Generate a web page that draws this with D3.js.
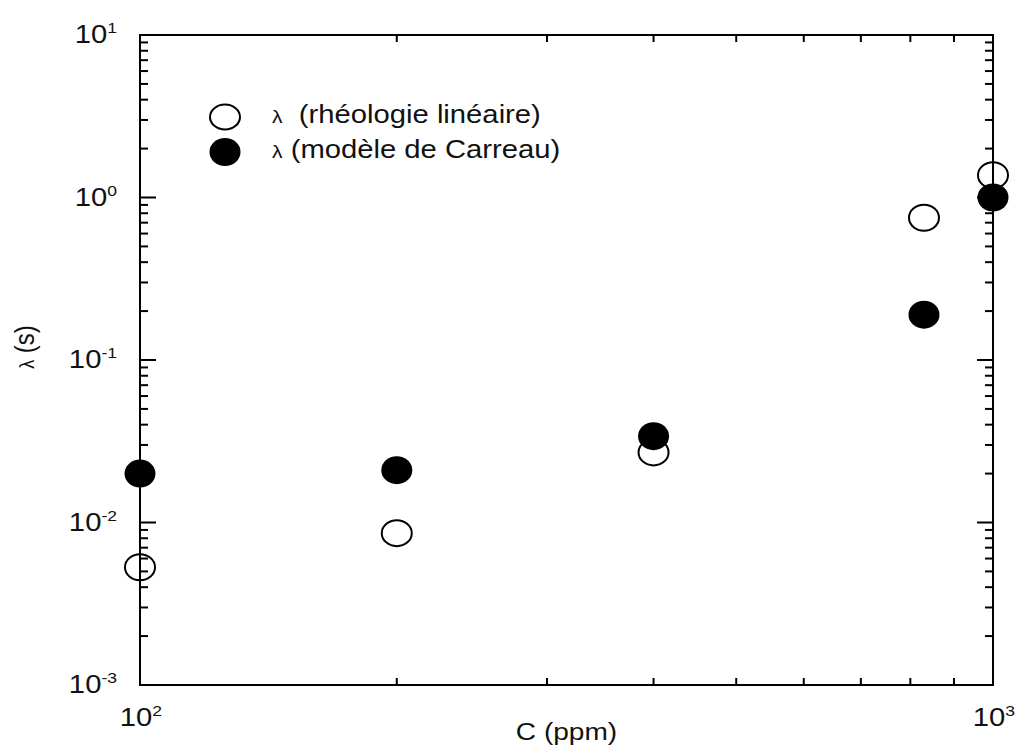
<!DOCTYPE html>
<html>
<head>
<meta charset="utf-8">
<script src="https://cdn.jsdelivr.net/npm/d3@7"></script>
<style>
  body { margin: 0; background: #fff; }
  text { font-family: "Liberation Sans", Arial, sans-serif; fill: #111; }
</style>
</head>
<body>
<div id="chart"></div>
<script>
const width = 1015;
const height = 747;
const margins = { top: 35, left: 140, bottom: 62, right: 22 };

// data
const concentrations = [100, 200, 400, 830, 1000];
const lambdaLinear = [0.0053, 0.0086, 0.027, 0.75, 1.37];
const lambdaCarreau = [0.020, 0.021, 0.034, 0.19, 1.0];
const seriesNames = ['(rhéologie linéaire)', '(modèle de Carreau)'];
const xTickLabels = ['2', '3'];
const yTickLabels = ['-3', '-2', '-1', '0', '1'];

// the picture is a bit wider than tall, text gets stretched the same way
const sx = 1.17;

const svg = d3.select('#chart')
    .append('svg')
    .attr('width', width)
    .attr('height', height);

const x = d3.scaleLog()
    .domain([100, 1000])
    .range([margins.left, width - margins.right]);

const y = d3.scaleLog()
    .domain([1e-3, 10])
    .range([height - margins.bottom, margins.top]);

const x0 = x.range()[0], x1 = x.range()[1];
const y0 = y.range()[0], y1 = y.range()[1];

// frame
svg.append('rect')
    .attr('x', x0)
    .attr('y', y1)
    .attr('width', x1 - x0)
    .attr('height', y0 - y1)
    .attr('fill', 'none')
    .attr('stroke', '#000')
    .attr('stroke-width', 2);

const isMajor = (v) => Math.abs(Math.log10(v) - Math.round(Math.log10(v))) < 1e-9;

// y ticks, inward on both sides
const yTicks = y.ticks();
const ticks = svg.append('g').attr('stroke', '#000').attr('stroke-width', 2);

ticks.selectAll('.yl').data(yTicks).enter()
    .append('line')
    .attr('x1', x0)
    .attr('x2', d => x0 + (isMajor(d) ? 16 : 8))
    .attr('y1', d => y(d))
    .attr('y2', d => y(d));

ticks.selectAll('.yr').data(yTicks).enter()
    .append('line')
    .attr('x1', x1)
    .attr('x2', d => x1 - (isMajor(d) ? 16 : 8))
    .attr('y1', d => y(d))
    .attr('y2', d => y(d));

// x ticks, inward on bottom and top
const xTicks = x.ticks();
ticks.selectAll('.xb').data(xTicks).enter()
    .append('line')
    .attr('x1', d => x(d))
    .attr('x2', d => x(d))
    .attr('y1', y0)
    .attr('y2', d => y0 - (isMajor(d) ? 14 : 7));

ticks.selectAll('.xt').data(xTicks).enter()
    .append('line')
    .attr('x1', d => x(d))
    .attr('x2', d => x(d))
    .attr('y1', y1)
    .attr('y2', d => y1 + (isMajor(d) ? 14 : 7));

// tick labels: 10 with superscript exponent
function powerLabel(g, px, py, exp, anchor) {
    const t = g.append('text')
        .attr('transform', `translate(${px},${py}) scale(${sx},1)`)
        .attr('text-anchor', anchor)
        .style('font-size', '25px');
    t.append('tspan').text('10');
    t.append('tspan')
        .attr('dy', -10)
        .style('font-size', '15px')
        .text(exp);
}

const labels = svg.append('g');
const yMajors = yTicks.filter(isMajor);
yMajors.forEach((v, i) => powerLabel(labels, 117, y(v) + 8, yTickLabels[i], 'end'));

const xMajors = xTicks.filter(isMajor);
xMajors.forEach((v, i) => powerLabel(labels, x(v) + 1, 726, xTickLabels[i], 'middle'));

// axis titles
svg.append('text')
    .attr('transform', `translate(${(x0 + x1) / 2},740) scale(${sx},1)`)
    .attr('text-anchor', 'middle')
    .style('font-size', '24px')
    .text('C (ppm)');

const yTitle = svg.append('text')
    .attr('transform', `translate(34,347) scale(${sx},1) rotate(-90)`)
    .attr('text-anchor', 'middle')
    .style('font-size', '24px');
yTitle.append('tspan').style('font-size', '18px').text('λ');
yTitle.append('tspan').text(' (s)');

// points
const linData = concentrations.map((c, i) => ({ c: c, v: lambdaLinear[i] }));
const carData = concentrations.map((c, i) => ({ c: c, v: lambdaCarreau[i] }));

svg.append('g').selectAll('ellipse').data(linData).enter()
    .append('ellipse')
    .attr('cx', d => x(d.c))
    .attr('cy', d => y(d.v))
    .attr('rx', 15)
    .attr('ry', 13)
    .attr('fill', 'none')
    .attr('stroke', '#000')
    .attr('stroke-width', 2);

svg.append('g').selectAll('ellipse').data(carData).enter()
    .append('ellipse')
    .attr('cx', d => x(d.c))
    .attr('cy', d => y(d.v))
    .attr('rx', 15.5)
    .attr('ry', 14)
    .attr('fill', '#000');

// legend
const legend = svg.append('g');
legend.append('ellipse')
    .attr('cx', 225).attr('cy', 117)
    .attr('rx', 15).attr('ry', 12.5)
    .attr('fill', 'none').attr('stroke', '#000').attr('stroke-width', 2);
legend.append('ellipse')
    .attr('cx', 225).attr('cy', 152)
    .attr('rx', 15.5).attr('ry', 14)
    .attr('fill', '#000');

const legendRows = [
    { y: 123, gap: '\u00a0\u00a0', name: seriesNames[0] },
    { y: 158, gap: '\u00a0', name: seriesNames[1] }
];
legendRows.forEach(r => {
    const t = legend.append('text')
        .attr('transform', `translate(272,${r.y}) scale(${sx},1)`)
        .style('font-size', '25px');
    t.append('tspan').style('font-size', '18px').text('λ');
    t.append('tspan').text(r.gap + r.name);
});
</script>
</body>
</html>
